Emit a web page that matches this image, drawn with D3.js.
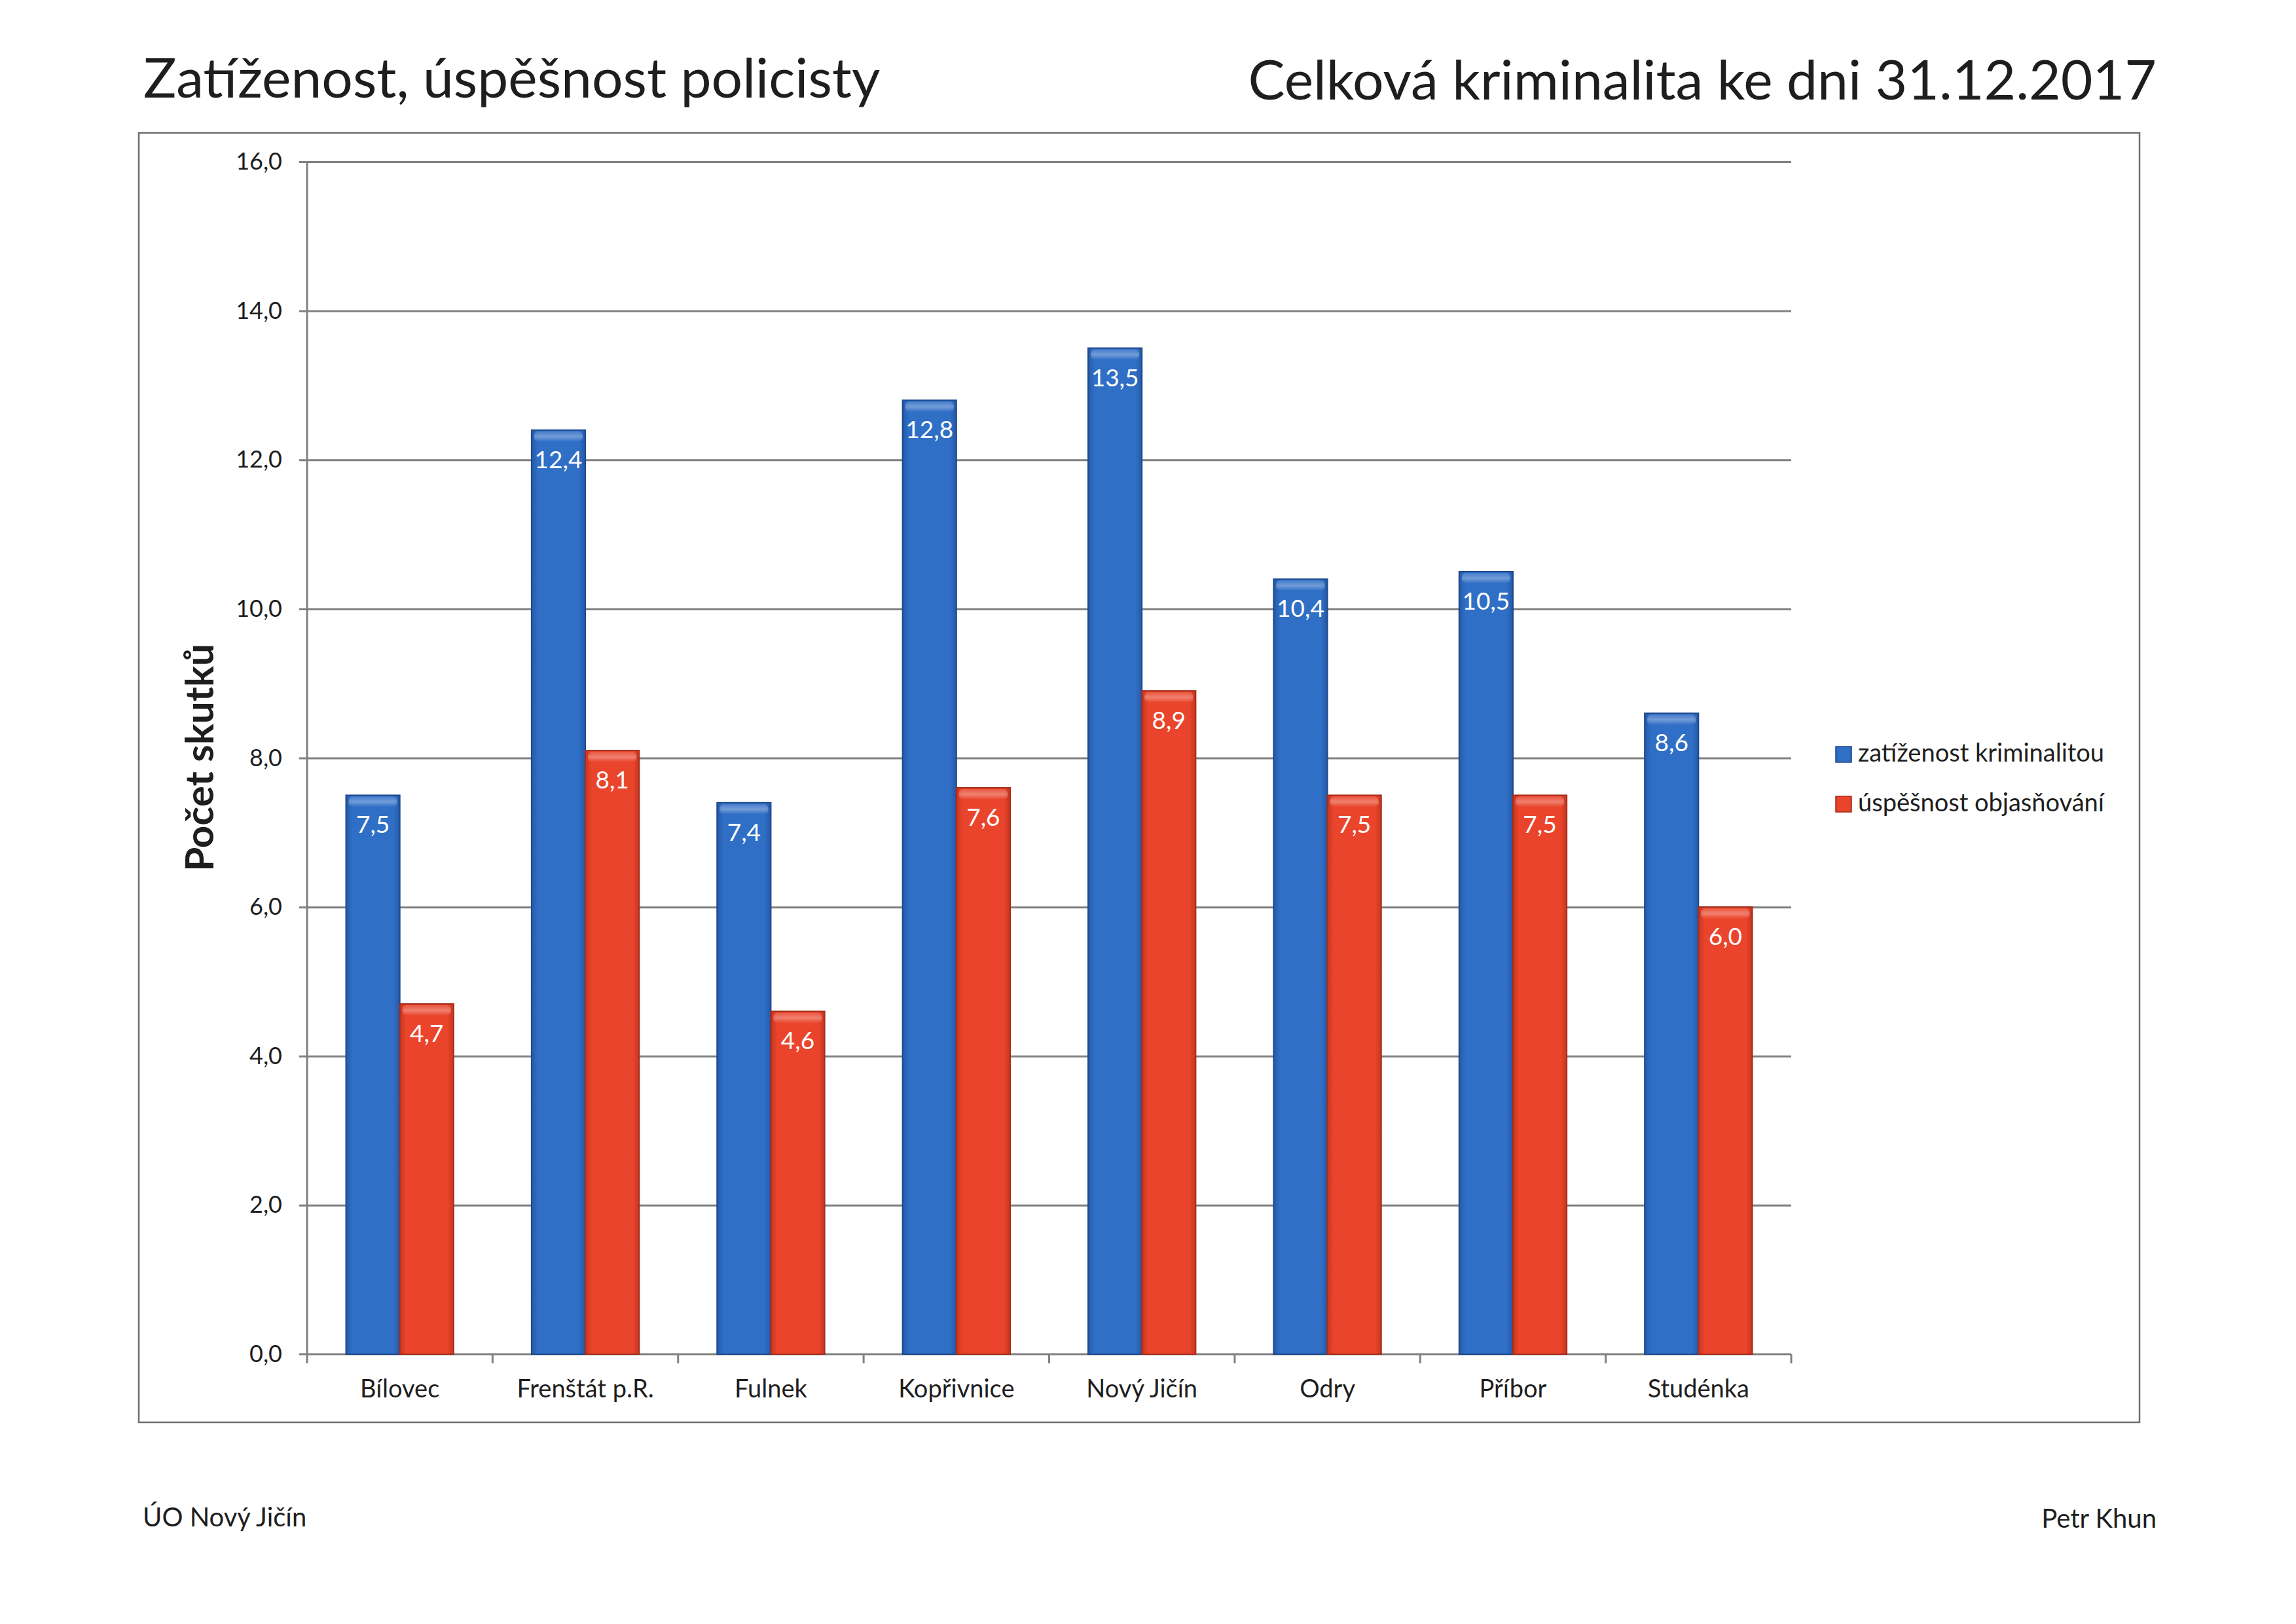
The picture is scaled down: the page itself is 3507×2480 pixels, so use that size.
<!DOCTYPE html>
<html>
<head>
<meta charset="utf-8">
<script src="https://cdn.jsdelivr.net/npm/d3@7/dist/d3.min.js"></script>
<style>
    body { margin: 0; background: #fff; }
    svg { display: block; }
    text { font-family: Lato, 'Noto Sans', sans-serif; fill: #1e1e1e; }
</style>
</head>
<body>
<div id="chart"></div>
<script>
// values
const categories = ['Bílovec', 'Frenštát p.R.', 'Fulnek', 'Kopřivnice', 'Nový Jičín', 'Odry', 'Příbor', 'Studénka'];
const seriesNames = ['zatíženost kriminalitou', 'úspěšnost objasňování'];
const zatizenost = [7.5, 12.4, 7.4, 12.8, 13.5, 10.4, 10.5, 8.6];
const uspesnost = [4.7, 8.1, 4.6, 7.6, 8.9, 7.5, 7.5, 6.0];
const yTicks = [0, 2, 4, 6, 8, 10, 12, 14, 16];

const W = 3507, H = 2480;
const plot = { left: 469, right: 2736, top: 247, bottom: 2068 };
const colors = [
    { main: '#306fc6', edge: '#2559a8', stroke: '#1d4a8c' },
    { main: '#ea452c', edge: '#c9351f', stroke: '#a52d1b' }
];

const fmt = v => d3.format('.1f')(v).replace('.', ',');

const svg = d3.select('#chart')
    .append('svg')
    .attr('width', W)
    .attr('height', H);

svg.append('rect').attr('width', W).attr('height', H).attr('fill', '#fff');

const defs = svg.append('defs');
colors.forEach((c, i) => {
    const g = defs.append('linearGradient').attr('id', 'bar' + i)
        .attr('x1', 0).attr('x2', 1).attr('y1', 0).attr('y2', 0);
    g.append('stop').attr('offset', '0%').attr('stop-color', c.edge);
    g.append('stop').attr('offset', '12%').attr('stop-color', c.main);
    g.append('stop').attr('offset', '88%').attr('stop-color', c.main);
    g.append('stop').attr('offset', '100%').attr('stop-color', c.edge);
});
const shine = defs.append('linearGradient').attr('id', 'shine')
    .attr('x1', 0).attr('x2', 0).attr('y1', 0).attr('y2', 1);
shine.append('stop').attr('offset', '0%').attr('stop-color', '#fff').attr('stop-opacity', 0.1);
shine.append('stop').attr('offset', '50%').attr('stop-color', '#fff').attr('stop-opacity', 0.32);
shine.append('stop').attr('offset', '100%').attr('stop-color', '#fff').attr('stop-opacity', 0);

// titles
svg.append('text')
    .attr('x', 219).attr('y', 149)
    .style('font-size', '84px')
    .text('Zatíženost, úspěšnost policisty');

svg.append('text')
    .attr('x', 3294).attr('y', 152)
    .attr('text-anchor', 'end')
    .style('font-size', '84px')
    .text('Celková kriminalita ke dni 31.12.2017');

// chart frame
svg.append('rect')
    .attr('x', 212).attr('y', 203)
    .attr('width', 3268 - 212).attr('height', 2172 - 203)
    .attr('fill', 'none')
    .attr('stroke', '#6e6e6e')
    .attr('stroke-width', 2.5);

const x = d3.scaleBand()
    .domain(categories)
    .range([plot.left, plot.right])
    .paddingInner(0.42)
    .paddingOuter(0.21);

const xs = d3.scaleBand()
    .domain(seriesNames)
    .range([0, x.bandwidth()]);

const y = d3.scaleLinear()
    .domain([0, 16])
    .range([plot.bottom, plot.top]);

// grid + y axis
const yAxis = d3.axisLeft(y)
    .tickValues(yTicks)
    .tickFormat(fmt)
    .tickSize(12)
    .tickPadding(26);

const yg = svg.append('g')
    .attr('transform', `translate(${plot.left},0)`)
    .call(yAxis);
yg.select('.domain').remove();
yg.selectAll('.tick line')
    .attr('x2', d => d === 0 ? -12 : plot.right - plot.left)
    .attr('x1', -12)
    .attr('stroke', '#808080')
    .attr('stroke-width', 3);
yg.selectAll('.tick text')
    .style('font-size', '36px')
    .attr('fill', '#1e1e1e');

// x axis line with ticks between categories
const bounds = categories.map(c => x(c) - x.step() * x.paddingInner() / 2).concat([plot.right]);
svg.append('line')
    .attr('x1', plot.left - 12).attr('x2', plot.right)
    .attr('y1', plot.bottom).attr('y2', plot.bottom)
    .attr('stroke', '#808080').attr('stroke-width', 3);
svg.append('line')
    .attr('x1', plot.left).attr('x2', plot.left)
    .attr('y1', plot.top).attr('y2', plot.bottom + 14)
    .attr('stroke', '#808080').attr('stroke-width', 3);
svg.selectAll('.xtick')
    .data(bounds.slice(1))
    .enter()
    .append('line')
    .attr('class', 'xtick')
    .attr('x1', d => d).attr('x2', d => d)
    .attr('y1', plot.bottom).attr('y2', plot.bottom + 14)
    .attr('stroke', '#808080').attr('stroke-width', 3);

svg.selectAll('.xlabel')
    .data(categories)
    .enter()
    .append('text')
    .attr('class', 'xlabel')
    .attr('x', d => x(d) + x.bandwidth() / 2)
    .attr('y', 2134)
    .attr('text-anchor', 'middle')
    .style('font-size', '38px')
    .text(d => d);

// bars
const rows = categories.map((c, i) => ({ cat: c, values: [zatizenost[i], uspesnost[i]] }));
const groups = svg.selectAll('.grp')
    .data(rows)
    .enter()
    .append('g')
    .attr('class', 'grp')
    .attr('transform', d => `translate(${x(d.cat)},0)`);

const bars = groups.selectAll('g')
    .data(d => d.values.map((v, i) => ({ v, i, name: seriesNames[i] })))
    .enter()
    .append('g');

bars.append('rect')
    .attr('x', d => xs(d.name))
    .attr('y', d => y(d.v))
    .attr('width', xs.bandwidth())
    .attr('height', d => y(0) - y(d.v))
    .attr('fill', d => `url(#bar${d.i})`)
    .attr('stroke', d => colors[d.i].stroke)
    .attr('stroke-width', 2);

bars.append('rect')
    .attr('x', d => xs(d.name) + 4)
    .attr('y', d => y(d.v) + 2)
    .attr('width', xs.bandwidth() - 8)
    .attr('height', 16)
    .attr('rx', 6)
    .attr('fill', 'url(#shine)');

bars.append('text')
    .attr('x', d => xs(d.name) + xs.bandwidth() / 2)
    .attr('y', d => y(d.v) + 58)
    .attr('text-anchor', 'middle')
    .style('font-size', '37px')
    .style('fill', '#fff')
    .text(d => fmt(d.v));

// y axis title
svg.append('text')
    .attr('transform', 'translate(326,1157) rotate(-90)')
    .attr('text-anchor', 'middle')
    .style('font-size', '60px')
    .style('font-weight', 'bold')
    .text('Počet skutků');

// legend
const legend = svg.selectAll('.legend')
    .data(seriesNames)
    .enter()
    .append('g')
    .attr('class', 'legend')
    .attr('transform', (d, i) => `translate(2804,${1140 + i * 76})`);
legend.append('rect')
    .attr('width', 24).attr('height', 24)
    .attr('fill', (d, i) => `url(#bar${i})`)
    .attr('stroke', (d, i) => colors[i].stroke)
    .attr('stroke-width', 1.5);
legend.append('text')
    .attr('x', 34).attr('y', 23)
    .style('font-size', '38px')
    .text(d => d);

// footer
svg.append('text')
    .attr('x', 218).attr('y', 2331)
    .style('font-size', '40px')
    .text('ÚO Nový Jičín');
svg.append('text')
    .attr('x', 3294).attr('y', 2333)
    .attr('text-anchor', 'end')
    .style('font-size', '40px')
    .text('Petr Khun');
</script>
</body>
</html>
